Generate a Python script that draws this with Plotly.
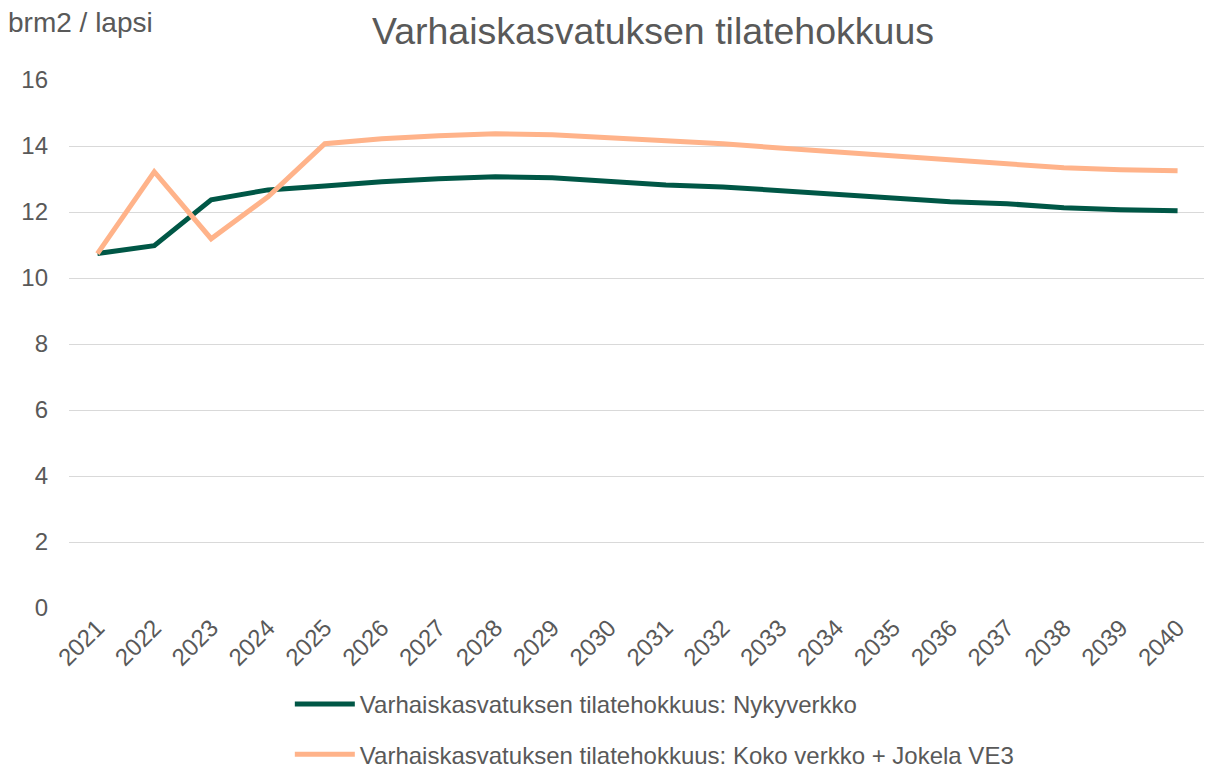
import plotly.graph_objects as go

years = list(range(2021, 2041))
nykyverkko = [10.74, 10.98, 12.37, 12.67, 12.79, 12.92, 13.01, 13.07, 13.04, 12.92,
              12.82, 12.76, 12.64, 12.52, 12.43, 12.31, 12.25, 12.13, 12.07, 12.04]
koko_verkko = [10.74, 13.22, 11.19, 12.46, 14.07, 14.22, 14.31, 14.37, 14.34, 14.25,
               14.16, 14.07, 13.94, 13.82, 13.70, 13.55, 13.46, 13.34, 13.28, 13.25]
series_names = ["Varhaiskasvatuksen tilatehokkuus: Nykyverkko",
                "Varhaiskasvatuksen tilatehokkuus: Koko verkko + Jokela VE3"]
y_ticks = [0, 2, 4, 6, 8, 10, 12, 14, 16]

font_family = "Liberation Sans, Arial, sans-serif"
txt = "#595959"

fig = go.Figure()
fig.add_trace(go.Scatter(x=years, y=nykyverkko, mode="lines", name=series_names[0],
                         legendgroup="a", line=dict(color="#005746", width=5)))
fig.add_trace(go.Scatter(x=years, y=koko_verkko, mode="lines", name=series_names[1],
                         legendgroup="b", line=dict(color="#FFB38A", width=5)))

fig.update_layout(
    width=1204, height=760,
    paper_bgcolor="white", plot_bgcolor="white",
    margin=dict(l=61, r=6, t=72, b=160, autoexpand=False),
    font=dict(family=font_family, color=txt, size=24),
    title=dict(text="Varhaiskasvatuksen tilatehokkuus", x=0.5357, xanchor="center",
               y=0.97, yanchor="middle", font=dict(size=37.5, color=txt)),
    showlegend=True,
    legend=dict(orientation="v", x=0.5148, xanchor="center", y=-0.140, yanchor="top",
                font=dict(size=24, color=txt), tracegroupgap=16, itemwidth=60),
    annotations=[dict(text="brm2 / lapsi", xref="paper", yref="paper",
                      x=-0.0556, y=1.108, xanchor="left", yanchor="middle",
                      showarrow=False, font=dict(size=28, color=txt))],
)
fig.update_xaxes(range=[2020.5, 2040.5], tickmode="array", tickvals=years,
                 ticktext=[str(y) for y in years], tickangle=-45, showgrid=False,
                 zeroline=False, showline=False, ticks="", automargin=False,
                 tickfont=dict(size=24, color=txt))
fig.update_yaxes(range=[0, 16], tickvals=y_ticks, showgrid=True, gridcolor="#D9D9D9",
                 gridwidth=1.3, zeroline=False, showline=False, ticks="", automargin=False,
                 ticklabelstandoff=20, tickfont=dict(size=24, color=txt))

fig.write_html("out.html")
